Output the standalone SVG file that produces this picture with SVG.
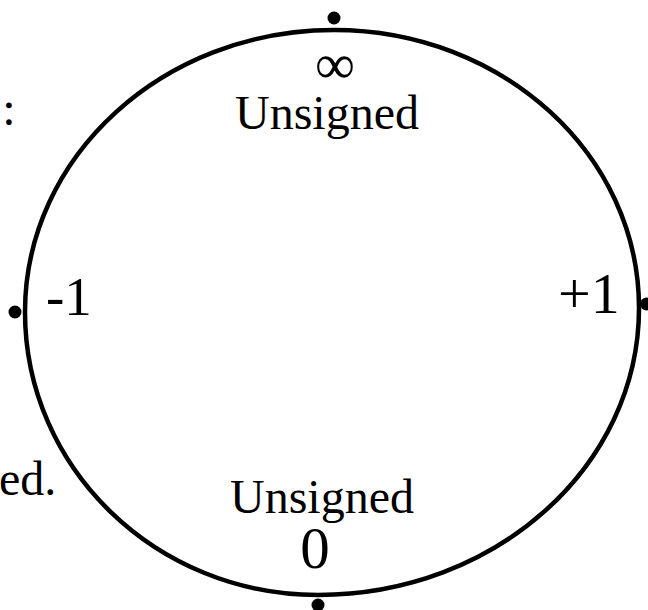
<svg xmlns="http://www.w3.org/2000/svg" width="648" height="610" viewBox="0 0 648 610">
<style>
text{font-family:"Liberation Serif","Times New Roman",serif;fill:#000}
.pt{fill:#000}
</style>
<rect width="648" height="610" fill="#fff"/>
<g id="connectors">
<path d="M334,30 C502.5,30 639,154.5 639,308 C639,466.5 495.3,595 318,595 C156.2,595 25,468.3 25,312 C25,156.3 163.3,30 334,30 Z" fill="none" stroke="#000" stroke-width="4.5"/>
</g>
<g id="node-top"><circle class="pt" cx="334" cy="18" r="6.5"/><text x="335" y="83" font-size="56" text-anchor="middle">∞</text><text x="327" y="129" font-size="48" text-anchor="middle">Unsigned</text></g>
<g id="node-right"><circle class="pt" cx="646.5" cy="304" r="6.5"/><text x="558" y="313" font-size="58">+1</text></g>
<g id="node-bottom"><circle class="pt" cx="318" cy="605" r="6.5"/><text x="322" y="513" font-size="48" text-anchor="middle">Unsigned</text><text x="315" y="568" font-size="59" text-anchor="middle">0</text></g>
<g id="node-left"><circle class="pt" cx="15" cy="312" r="6.5"/><text x="46" y="315" font-size="55">-1</text></g>
<g id="notes"><text x="9" y="125" font-size="48" text-anchor="middle">:</text><text x="-1" y="495" font-size="48">ed.</text></g>
</svg>
